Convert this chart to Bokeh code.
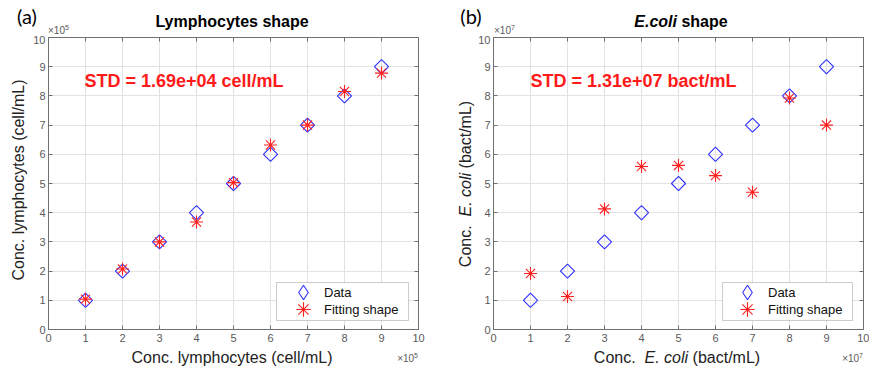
import math
from bokeh.plotting import figure
from bokeh.models import (Range1d, FixedTicker, LinearAxis, Label, Legend, LegendItem,
                          BoxAnnotation, Div)
from bokeh.layouts import row, column
from bokeh.embed import file_html
from bokeh.resources import INLINE

# ---- data (axis units: x1e5 for lymphocytes, x1e7 for E. coli) ----
lym_true = [1, 2, 3, 4, 5, 6, 7, 8, 9]
lym_data = [1, 2, 3, 4, 5, 6, 7, 8, 9]
lym_fit = [1.04, 2.07, 3.0, 3.68, 5.03, 6.32, 7.0, 8.15, 8.78]

eco_true = [1, 2, 3, 4, 5, 6, 7, 8, 9]
eco_data = [1, 2, 3, 4, 5, 6, 7, 8, 9]
eco_fit = [1.92, 1.13, 4.13, 5.58, 5.62, 5.27, 4.7, 7.93, 7.0]

ticks = [0, 1, 2, 3, 4, 5, 6, 7, 8, 9, 10]
legend_labels = ["Data", "Fitting shape"]

FONT = "Liberation Sans"
TICK_COL = "#5a5a5a"
AX_COL = "#707070"
LBL_COL = "#222222"
BLUE = "#2f2fff"
RED = "#ff2020"


def base_fig(width, bl, br):
    p = figure(width=width, height=313, x_range=Range1d(0, 10), y_range=Range1d(0, 10),
               output_backend="svg", toolbar_location=None,
               min_border_left=bl, min_border_right=br, min_border_top=2, min_border_bottom=19)
    p.outline_line_color = AX_COL
    p.background_fill_color = "white"
    p.border_fill_color = "white"
    for ax in p.xaxis + p.yaxis:
        ax.ticker = FixedTicker(ticks=ticks)
        ax.minor_tick_line_color = None
        ax.major_tick_in = 4
        ax.major_tick_out = 0
        ax.axis_line_color = AX_COL
        ax.major_tick_line_color = AX_COL
        ax.major_label_text_font = FONT
        ax.major_label_text_font_size = "11px"
        ax.major_label_text_color = TICK_COL
    p.xaxis.major_label_standoff = 4
    p.yaxis.major_label_standoff = 3
    for loc in ("right", "above"):
        ax = LinearAxis(ticker=FixedTicker(ticks=ticks))
        ax.minor_tick_line_color = None
        ax.major_tick_in = 4
        ax.major_tick_out = 0
        ax.axis_line_color = AX_COL
        ax.major_tick_line_color = AX_COL
        ax.major_label_overrides = {t: "" for t in ticks}
        ax.major_label_text_font_size = "1px"
        ax.major_label_standoff = 0
        p.add_layout(ax, loc)
    p.grid.grid_line_color = "#e2e2e2"
    p.grid.grid_line_width = 1
    p.grid.ticker = FixedTicker(ticks=ticks)
    return p


def one_legend(label, renderer, x, y):
    return Legend(items=[LegendItem(label=label, renderers=[renderer])],
                  location=(x, y), label_text_font=FONT, label_text_font_size="13px",
                  label_text_color="#111111", border_line_color=None,
                  background_fill_alpha=0, inactive_fill_alpha=0,
                  padding=0, spacing=0, margin=0, glyph_width=36, glyph_height=36,
                  label_standoff=3, label_height=16)


def markers(p, xs, d, f, box_l, box_r, leg_x):
    p.scatter(xs, d, marker="square", angle=math.pi / 4, size=10, fill_color=None,
              line_color=BLUE, line_width=1.1)
    r2 = p.scatter(xs, f, marker="asterisk", size=13, line_color=RED, line_width=1.1)
    # legend stand-in for the diamond symbol (same data, hidden)
    g1 = p.scatter(xs, d, marker="diamond", size=14, fill_color=None,
                   line_color=BLUE, line_width=1.1, visible=False)
    p.add_layout(BoxAnnotation(left=box_l, right=box_r, bottom=9, top=47,
                               left_units="screen", right_units="screen",
                               bottom_units="screen", top_units="screen",
                               fill_color="white", fill_alpha=1,
                               line_color="#555555", line_width=1))
    p.add_layout(one_legend(legend_labels[0], g1, leg_x, 19))
    p.add_layout(one_legend(legend_labels[1], r2, leg_x, 2))


def std_label(p, x, text):
    p.add_layout(Label(x=x, y=249, x_units="screen", y_units="screen", text=text,
                       text_font=FONT, text_font_size="18px", text_font_style="bold",
                       text_color="#ff1a1a", text_baseline="middle"))


def span(x, y, html, size=16, align="center", color=LBL_COL, style="", vertical=False,
         font=FONT):
    tx = {"left": "0", "center": "-50%", "right": "-100%"}[align]
    extra = ""
    tr = f"translate({tx},-50%)"
    if vertical:
        extra = "writing-mode:vertical-rl;"
        tr = "translate(-50%,-50%) rotate(180deg)"
    return (f'<span style="position:absolute;left:{x}px;top:{y}px;transform:{tr};'
            f'white-space:nowrap;line-height:1;font-family:\'{font}\';font-size:{size}px;'
            f'color:{color};{style}{extra}">{html}</span>')


def strip(w, h, parts):
    html = (f'<div style="position:relative;width:{w}px;height:{h}px;overflow:visible;">'
            + "".join(parts) + "</div>")
    return Div(text=html, width=w, height=h, margin=0)


# ---------------- figures ----------------
p1 = base_fig(404, 17, 16)          # frame: x 47..418, y 37..329 in page px
markers(p1, lym_true, lym_data, lym_fit, 228, 360, 237)
std_label(p1, 36, "STD = 1.69e+04 cell/mL")

p2 = base_fig(394, 18, 6)           # frame: x 493..863
markers(p2, eco_true, eco_data, eco_fit, 229, 359, 236)
std_label(p2, 37, "STD = 1.31e+07 bact/mL")

# ---------------- text strips ----------------
top = strip(869, 35, [
    span(27, 16, "(a)", size=20, color="black", font="Lato"),
    span(232, 22, "Lymphocytes shape", size=16, color="black", style="font-weight:bold;"),
    span(48, 30, "×10<sup style='font-size:7px'>5</sup>", size=10, align="left", color=TICK_COL),
    span(471, 16, "(b)", size=20, color="black", font="Lato"),
    span(681, 22, "<i>E.coli</i> shape", size=16, color="black", style="font-weight:bold;"),
    span(494, 30, "×10<sup style='font-size:7px'>7</sup>", size=10, align="left", color=TICK_COL),
])

left_a = strip(30, 313, [
    span(19, 145, "Conc. lymphocytes (cell/mL)", vertical=True),
])
left_b = strip(41, 313, [
    span(32, 149, "Conc.&nbsp; <i>E. coli</i> (bact/mL)", vertical=True),
])

bottom = strip(869, 22, [
    span(232, 10, "Conc. lymphocytes (cell/mL)"),
    span(418, 10, "×10<sup style='font-size:7px'>5</sup>", size=10, align="right", color=TICK_COL),
    span(677, 10, "Conc.&nbsp; <i>E. coli</i> (bact/mL)"),
    span(863, 10, "×10<sup style='font-size:7px'>7</sup>", size=10, align="right", color=TICK_COL),
])

layout = column(top, row(left_a, p1, left_b, p2, spacing=0), bottom, spacing=0)
open("out.html", "w").write(file_html(layout, INLINE))
